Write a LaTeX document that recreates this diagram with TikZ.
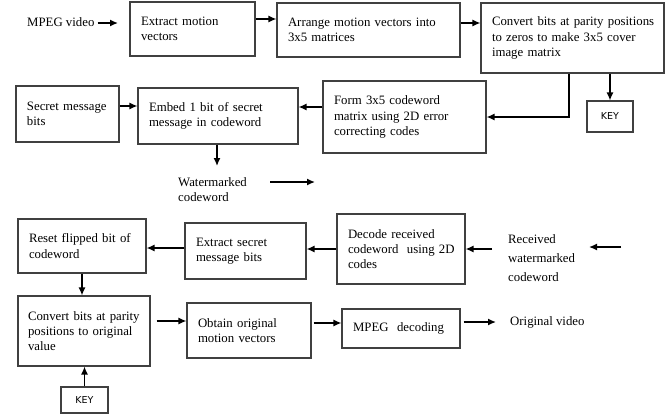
\documentclass[tikz,border=0pt]{standalone}
\usepackage{fontspec}
\setmainfont{Liberation Serif}
\newfontfamily\keyfont{DejaVu Sans}
\usetikzlibrary{arrows.meta}
\begin{document}
\begin{tikzpicture}[x=1pt,y=-1pt,
  box/.style={draw=black!75, line width=1.1pt, align=left, inner xsep=11pt, inner ysep=0pt,
              font=\fontsize{12.8}{15.3}\selectfont},
  keybox/.style={draw=black!75, line width=1.1pt, inner sep=0pt,
              font=\keyfont\fontsize{9.5}{11}\selectfont},
  lbl/.style={align=left, inner sep=0pt, anchor=west, font=\fontsize{12.8}{15.3}\selectfont},
  arr/.style={line width=1.4pt, -{Latex[length=8pt,width=7pt]}},
]
\useasboundingbox (0,0) rectangle (669,416);

% top row
\node[lbl] (mv) at (27,22) {MPEG video};
\node[box, text width=103pt, minimum width=125pt, minimum height=54pt] (ext) at (192.5,29) {\mbox{Extract motion}\\\mbox{vectors}};
\node[box, text width=161pt, minimum width=183pt, minimum height=54pt] (arg) at (368.5,30) {\mbox{Arrange motion vectors into}\\\mbox{3x5 matrices}};
\node[box, text width=161pt, minimum width=183pt, minimum height=70pt] (cnv) at (572.5,38) {\mbox{Convert bits at parity positions}\\\mbox{to zeros to make 3x5 cover}\\\mbox{image matrix}};
\node[keybox, minimum width=46pt, minimum height=31pt] (key1) at (610,116.5) {KEY};

% second row
\node[box, text width=141pt, minimum width=163pt, minimum height=72pt] (frm) at (404.5,117) {\mbox{Form 3x5 codeword}\\\mbox{matrix using 2D error}\\\mbox{correcting codes}};
\node[box, text width=138pt, minimum width=160pt, minimum height=56pt] (emb) at (218,116) {\mbox{Embed 1 bit of secret}\\\mbox{message in codeword}};
\node[box, text width=81pt, minimum width=103pt, minimum height=56pt] (sec) at (67.5,114) {\mbox{Secret message}\\\mbox{bits}};
\node[lbl] (wm) at (178,189.5) {Watermarked\\codeword};

% third row
\node[lbl, font=\fontsize{12.8}{19}\selectfont] (rcv) at (508,258) {Received\\watermarked\\codeword};
\node[box, text width=106pt, minimum width=128pt, minimum height=70pt] (dec) at (401,249) {\mbox{Decode received}\\\mbox{codeword\ \ using 2D}\\\mbox{codes}};
\node[box, text width=99pt, minimum width=121pt, minimum height=56pt] (exs) at (245.5,251) {\mbox{Extract secret}\\\mbox{message bits}};
\node[box, text width=106pt, minimum width=128pt, minimum height=54pt] (rst) at (82,246) {\mbox{Reset flipped bit of}\\\mbox{codeword}};

% fourth row
\node[box, inner xsep=10pt, text width=112pt, minimum width=132pt, minimum height=70pt] (cv2) at (84,331) {\mbox{Convert bits at parity}\\\mbox{positions to original}\\\mbox{value}\\[2pt]};
\node[keybox, minimum width=47pt, minimum height=26pt] (key2) at (84.5,400) {KEY};
\node[box, text width=102pt, minimum width=124pt, minimum height=55pt] (obt) at (249,330.5) {\mbox{Obtain original}\\\mbox{motion vectors}};
\node[box, text width=96pt, minimum width=118pt, minimum height=39pt] (mpg) at (401,328.5) {\mbox{MPEG\ \ decoding}};
\node[lbl] (org) at (510,322) {Original video};

% free ends
\coordinate (mvend) at (118,23);
\coordinate (embend) at (217,166);
\coordinate (wmA) at (270,182);
\coordinate (wmB) at (315,182);
\coordinate (rcA) at (621,247);
\coordinate (rcB) at (589,247);
\coordinate (rcS) at (492,249);
\coordinate (mpend) at (496,322);

% connectors
\draw[arr] ([xshift=3pt]mv.east |- mvend) -- (mvend);
\draw[arr] (ext.east |- 0,19) -- (arg.west |- 0,19);
\draw[arr] (arg.east |- 0,23) -- (cnv.west |- 0,23);
\draw[arr] (cnv.south -| 569,0) |- (frm.east);
\draw[arr] (cnv.south -| key1.north) -- (key1.north);
\draw[arr] (frm.west |- 0,107) -- (emb.east |- 0,107);
\draw[arr] (sec.east |- 0,106) -- (emb.west |- 0,106);
\draw[arr] (emb.south -| embend) -- (embend);
\draw[arr] (wmA) -- (wmB);
\draw[arr] (rcA) -- (rcB);
\draw[arr] (rcS) -- (dec.east |- rcS);
\draw[arr] (dec.west |- 0,249) -- (exs.east |- 0,249);
\draw[arr] (exs.west |- 0,248) -- (rst.east |- 0,248);
\draw[arr] (rst.south) -- (rst.south |- cv2.north);
\draw[arr] (key2.north) -- (key2.north |- cv2.south);
\draw[arr, shorten <=6pt] (cv2.east |- 0,321) -- (obt.west |- 0,321);
\draw[arr, shorten <=2pt] (obt.east |- 0,323) -- (mpg.west |- 0,323);
\draw[arr, shorten <=3pt] (mpg.east |- mpend) -- (mpend);
\end{tikzpicture}
\end{document}
